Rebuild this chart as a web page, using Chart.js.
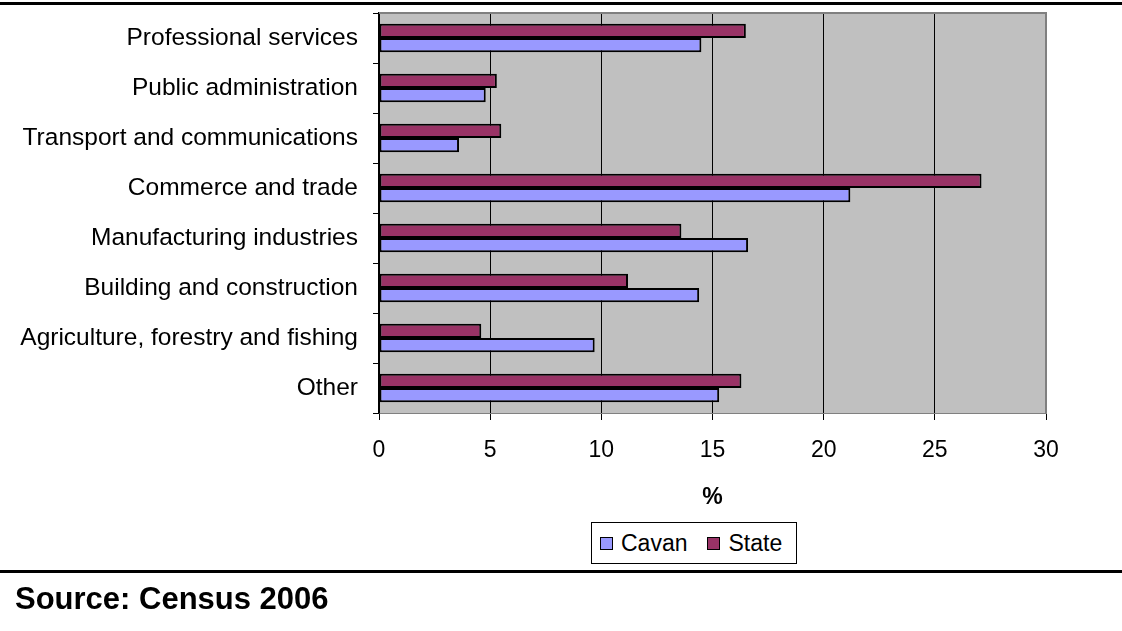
<!DOCTYPE html>
<html>
<head>
<meta charset="utf-8">
<script src="https://cdn.jsdelivr.net/npm/chart.js@4.4.0/dist/chart.umd.min.js"></script>
<style>
  html, body { margin: 0; padding: 0; background: #fff; }
  body { width: 1122px; height: 631px; position: relative; overflow: hidden; font-family: 'Liberation Sans', Arial, sans-serif; }
  #wrap { position: absolute; left: 0; top: 0; width: 1122px; height: 631px; }
  .rule { position: absolute; left: 0; width: 1122px; height: 3px; background: #000; }
  #legend { position: absolute; left: 591px; top: 522px; width: 204px; height: 40px; border: 1px solid #000; background: #fff;
            display: flex; align-items: center; justify-content: flex-start; padding-left: 0; box-sizing: content-box;
            font-size: 23px; color: #000; }
  #legend .item { display: flex; align-items: center; margin-right: 20px; }
  #legend .item:first-child { margin-left: 8px; }
  #legend .sw { width: 11px; height: 11px; border: 1px solid #000; margin-right: 8px; }
  #source { position: absolute; left: 15px; top: 581px; font-weight: bold; font-size: 31px; color: #000; }
</style>
</head>
<body>
<div class="rule" style="top:2px"></div>
<div id="wrap"><canvas id="barChart"></canvas></div>
<div id="legend"></div>
<div class="rule" style="top:570px"></div>
<div id="source">Source: Census 2006</div>
<script>
var categories = ['Professional services', 'Public administration', 'Transport and communications',
    'Commerce and trade', 'Manufacturing industries', 'Building and construction',
    'Agriculture, forestry and fishing', 'Other'];
var cavan = [14.5, 4.8, 3.6, 21.2, 16.6, 14.4, 9.7, 15.3];
var state = [16.5, 5.3, 5.5, 27.1, 13.6, 11.2, 4.6, 16.3];
var xTicks = [0, 5, 10, 15, 20, 25, 30];

var FONT = "'Liberation Sans', Arial, sans-serif";

// grey plot area + grey top/right frame like the Excel original
var plotFrame = {
    id: 'plotFrame',
    beforeDraw: function(chart) {
        var a = chart.chartArea, c = chart.ctx;
        c.save();
        c.fillStyle = '#C0C0C0';
        c.fillRect(a.left, a.top, a.right - a.left, a.bottom - a.top);
        c.restore();
    },
    beforeDatasetsDraw: function(chart) {
        var a = chart.chartArea, c = chart.ctx;
        c.save();
        c.strokeStyle = '#808080';
        c.lineWidth = 2;
        c.beginPath();
        c.moveTo(a.left, a.top);
        c.lineTo(a.right, a.top);
        c.lineTo(a.right, a.bottom);
        c.stroke();
        c.restore();
    }
};

function renderChart() {
    var ctx = document.getElementById('barChart').getContext('2d');
    var myChart = new Chart(ctx, {
        type: 'bar',
        data: {
            labels: categories,
            datasets: [{
                label: 'State',
                data: state,
                backgroundColor: '#993366',
                borderColor: '#000',
                borderWidth: 2,
                borderSkipped: false
            }, {
                label: 'Cavan',
                data: cavan,
                backgroundColor: '#9999FF',
                borderColor: '#000',
                borderWidth: 2,
                borderSkipped: false
            }]
        },
        options: {
            indexAxis: 'y',
            responsive: true,
            maintainAspectRatio: false,
            animation: false,
            layout: { padding: { left: 0, top: 13, right: 76, bottom: 120 } },
            datasets: { bar: { categoryPercentage: 0.57, barPercentage: 1.0 } },
            plugins: { legend: { display: false }, tooltip: { enabled: false } },
            scales: {
                x: {
                    min: 0, max: 30,
                    afterBuildTicks: function(s) { s.ticks = xTicks.map(function(v) { return { value: v }; }); },
                    afterFit: function(s) { s.height = 98; },
                    grid: {
                        color: function(c) { return c.index === xTicks.length - 1 ? '#808080' : '#000'; },
                        lineWidth: 1,
                        tickLength: 7,
                        tickColor: '#000'
                    },
                    border: { color: '#808080', width: 1 },
                    ticks: { color: '#000', padding: 17, font: { family: FONT, size: 23 } },
                    title: { display: true, text: '%', color: '#000', padding: 0, font: { family: FONT, size: 23, weight: 'bold' } }
                },
                y: {
                    afterFit: function(s) { s.width = 379; s.paddingTop = 0; s.paddingBottom = 0; },
                    grid: { drawOnChartArea: false, tickLength: 6, tickColor: '#000', offset: true },
                    border: { color: '#000', width: 1.5 },
                    ticks: { color: '#000', padding: 15, font: { family: FONT, size: 24.5 } }
                }
            }
        },
        plugins: [plotFrame]
    });
    return myChart;
}

var chart = renderChart();

// legend in the original lists Cavan first
var legendEl = document.getElementById('legend');
chart.data.datasets.slice().reverse().forEach(function(ds) {
    var item = document.createElement('span');
    item.className = 'item';
    var sw = document.createElement('span');
    sw.className = 'sw';
    sw.style.background = ds.backgroundColor;
    item.appendChild(sw);
    item.appendChild(document.createTextNode(ds.label));
    legendEl.appendChild(item);
});
</script>
</body>
</html>
